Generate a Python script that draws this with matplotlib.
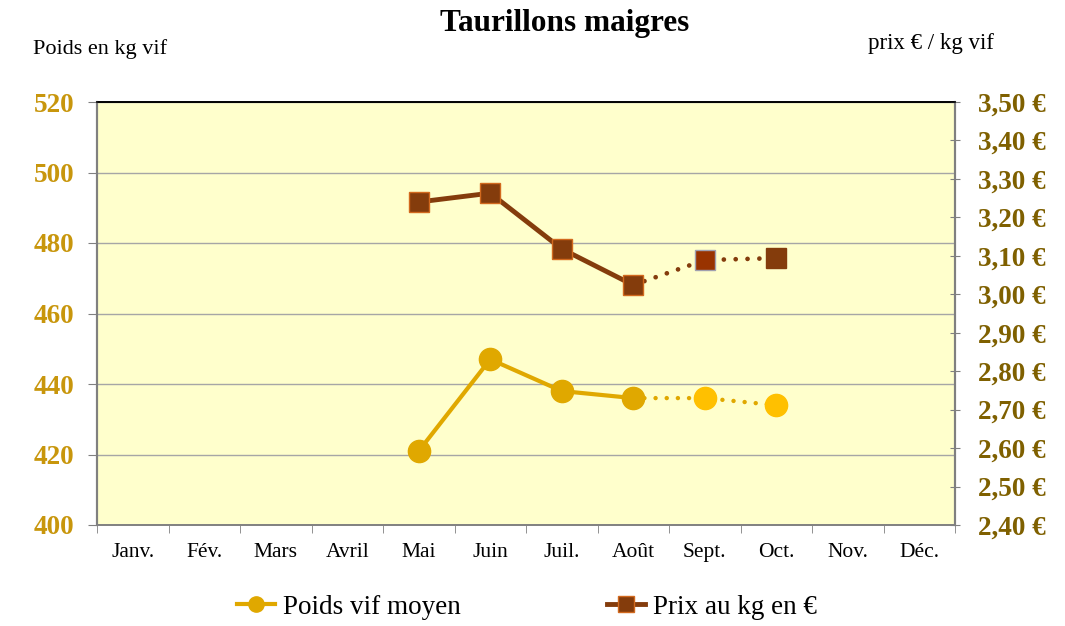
import matplotlib
matplotlib.use("Agg")
import matplotlib.pyplot as plt
from matplotlib.lines import Line2D
from matplotlib.ticker import FuncFormatter, MultipleLocator
import numpy as np

months = ["Janv.", "Fév.", "Mars", "Avril", "Mai", "Juin", "Juil.", "Août", "Sept.", "Oct.", "Nov.", "Déc."]
poids_mois = ["Mai", "Juin", "Juil.", "Août", "Sept.", "Oct."]
poids = [421, 447, 438, 436, 436, 434]
prix = [3.24, 3.263, 3.118, 3.024, 3.089, 3.094]
n_solid = 4  # Mai..Août solid, then dotted estimates

plt.rcParams['font.family'] = ['Liberation Serif', 'DejaVu Serif']

fig = plt.figure(figsize=(10.65, 6.26), dpi=100)
ax = fig.add_axes([97/1065, 1-525/626, 858/1065, 423/626])
ax2 = ax.twinx()

ax.set_facecolor("#FFFFCC")
ax.set_xlim(-0.5, 11.5)
ax.set_ylim(400, 520)
ax2.set_ylim(2.40, 3.50)
ax.yaxis.set_major_locator(MultipleLocator(20))
ax2.yaxis.set_major_locator(MultipleLocator(0.1))
ax.grid(axis='y', color='#A6A6A6', linewidth=1)
ax.set_axisbelow(True)

idx = [months.index(m) for m in poids_mois]
x = np.array(idx)

c_poids = "#E0A800"
c_poids2 = "#FFC000"
c_prix = "#843C0C"
c_prix2 = "#993300"
dots = (0, (0.01, 2.5))

# weight
ax.plot(x[:n_solid], poids[:n_solid], color=c_poids, lw=3, zorder=3)
ax.plot(x[n_solid-1:], poids[n_solid-1:], color=c_poids, lw=3.2, ls=dots,
        dash_capstyle='round', zorder=3)
ax.plot(x[:n_solid], poids[:n_solid], ls='none', marker='o', ms=16, color=c_poids, zorder=4)
ax.plot(x[n_solid:], poids[n_solid:], ls='none', marker='o', ms=16, color=c_poids2, zorder=4)

# price
ax2.plot(x[:n_solid], prix[:n_solid], color=c_prix, lw=3.5, zorder=3)
ax2.plot(x[n_solid-1:], prix[n_solid-1:], color=c_prix, lw=3.4, ls=dots,
         dash_capstyle='round', zorder=3)
ax2.plot(x[:n_solid], prix[:n_solid], ls='none', marker='s', ms=14, color=c_prix,
         mec="#D2691E", mew=1, zorder=4)
ax2.plot(x[n_solid], prix[n_solid], ls='none', marker='s', ms=14, color=c_prix2,
         mec="#A0A0B0", mew=1, zorder=4)
ax2.plot(x[n_solid+1:], prix[n_solid+1:], ls='none', marker='s', ms=14, color=c_prix,
         mec=c_prix, mew=1, zorder=4)

# x axis
ax.set_xticks(range(12))
ax.set_xticklabels(months, fontsize=15.5)
ax.set_xticks(np.arange(-0.5, 12, 1), minor=True)
ax.tick_params(axis='x', which='major', length=0, pad=13)
ax.tick_params(axis='x', which='minor', length=6, color='#808080', direction='out')

ax.tick_params(axis='y', length=6.5, color='#808080', direction='out', labelsize=19.5,
               labelcolor="#C8960C", pad=10)
for lab in ax.get_yticklabels():
    lab.set_fontweight('bold')
ax2.yaxis.set_major_formatter(FuncFormatter(lambda v, p: f"{v:.2f}".replace('.', ',') + " €"))
ax2.tick_params(axis='y', length=7, color='#808080', direction='inout', labelsize=19.5,
                labelcolor="#7F6000", pad=13)
for lab in ax2.get_yticklabels():
    lab.set_fontweight('bold')

for a in (ax, ax2):
    a.spines['left'].set_color('#808080')
    a.spines['right'].set_color('#808080')
    a.spines['bottom'].set_color('#808080')
    a.spines['top'].set_color('black')
    a.spines['left'].set_linewidth(1.5)
    a.spines['right'].set_linewidth(1.5)
    a.spines['bottom'].set_linewidth(1.2)
    a.spines['top'].set_linewidth(1.2)

fig.text(565/1065, 1-24/626, "Taurillons maigres", ha='center', va='center',
         fontsize=22.5, fontweight='bold')
fig.text(33/1065, 1-49/626, "Poids en kg vif", ha='left', va='center', fontsize=16)
fig.text(868/1065, 1-43/626, "prix € / kg vif", ha='left', va='center', fontsize=16.5)

h1 = Line2D([], [], color=c_poids, lw=3, marker='o', ms=11)
h2 = Line2D([], [], color=c_prix, lw=3.5, marker='s', ms=11, mec="#D2691E")
fig.legend([h1, h2], ["Poids vif moyen", "Prix au kg en €"], loc='center',
           bbox_to_anchor=(527/1065, 1-607/626), ncol=2, frameon=False, fontsize=19.5,
           handlelength=1.4, handletextpad=0.3, columnspacing=5.4)

fig.savefig("out.png", dpi=100)
